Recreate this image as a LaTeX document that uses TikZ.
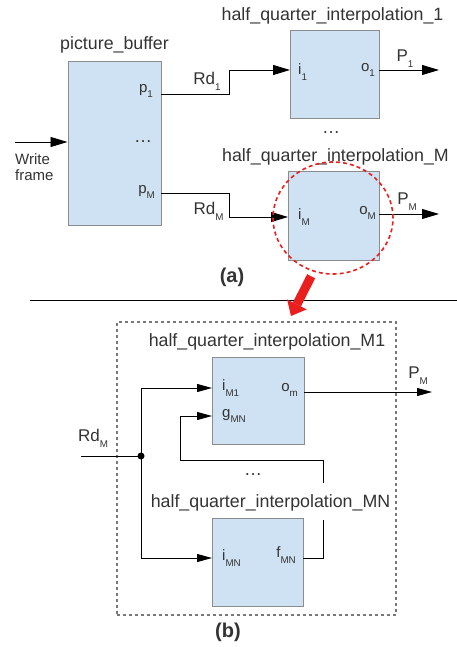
\documentclass[tikz,border=0pt]{standalone}
\usepackage{fontspec}
\setmainfont{Liberation Sans}
\usepackage{xcolor}
\usetikzlibrary{shapes.geometric, arrows.meta, positioning}

\definecolor{boxblue}{RGB}{207,226,243}
\definecolor{boxline}{RGB}{140,140,140}
\definecolor{txt}{RGB}{51,51,51}
\definecolor{zoomred}{RGB}{235,30,30}
\definecolor{framegray}{RGB}{120,120,120}
\newcommand{\lo}[1]{\raisebox{-0.35em}{\fontsize{9.8}{10}\selectfont #1}}

\begin{document}
\begin{tikzpicture}[
    x=1pt, y=-1pt,
    every node/.style={text=txt, inner sep=0pt},
    block/.style={rectangle, draw=boxline, fill=boxblue, line width=1pt},
    title/.style={font=\fontsize{17.8}{20}\selectfont},
    port/.style={font=\fontsize{15}{16}\selectfont},
    dots/.style={font=\fontsize{18}{18}\selectfont},
    sig/.style={font=\fontsize{17}{19}\selectfont},
    caption/.style={font=\fontsize{20}{22}\selectfont\bfseries},
    wire/.style={line width=0.9pt},
    arrowA/.style={wire, -{Triangle[length=17pt,width=10pt]}},
    arrowB/.style={wire, -{Triangle[length=15pt,width=8pt]}}
]
    \useasboundingbox (0,0) rectangle (457,647);

    % (a) Blocks
    \node (buf) [block, minimum width=93pt, minimum height=163pt] at (114.5,143.5) {};
    \node (hq1) [block, minimum width=89pt, minimum height=88pt] at (334.5,75) {};
    \node (hqM) [block, minimum width=91pt, minimum height=88pt] at (333.5,216) {};

    \node (bufname) [title, above=8pt of buf] {picture\_buffer};
    \node (hq1name) [title, above=6pt of hq1, xshift=-2pt] {half\_quarter\_interpolation\_1};
    \node (hqMname) [title, above=6pt of hqM, xshift=2pt] {half\_quarter\_interpolation\_M};

    % (a) Ports
    \coordinate (wf) at (15,142);
    \coordinate (p1) at (161,94);
    \coordinate (pM) at (161,193);
    \coordinate (i1) at (290,70);
    \coordinate (o1) at (379,70);
    \coordinate (iM) at (288,217);
    \coordinate (oM) at (379,214);
    \coordinate (P1out) at (439,70);
    \coordinate (PMout) at (439,214);

    \node (p1lab) [port, left=8pt of p1, yshift=3pt] {p\lo{1}};
    \node (pMlab) [port, left=6pt of pM, yshift=1pt] {p\lo{M}};
    \node (i1lab) [port, right=8pt of i1, yshift=-2pt] {i\lo{1}};
    \node (o1lab) [port, left=4pt of o1] {o\lo{1}};
    \node (iMlab) [port, right=10pt of iM] {i\lo{M}};
    \node (oMlab) [port, left=3pt of oM, yshift=1pt] {o\lo{M}};
    \node (bufdots) [dots] at (143,142) {\ldots};
    \node (hqdots) [dots] at (331,133) {\ldots};
    \node (wflab) [port, align=left, below right=11pt and 0pt of wf] {Write\\frame};

    % (a) Arrows
    \draw [arrowA] (wf) -- (buf.west |- wf);
    \draw [arrowA] (p1) -- ++(68,0) node[sig, anchor=south east, xshift=-8pt, yshift=3pt] {Rd\lo{1}} |- (i1);
    \draw [arrowA] (pM) -- ++(68,0) node[sig, anchor=north east, xshift=-5pt, yshift=-9pt] {Rd\lo{M}} |- (iM);
    \draw [arrowA] (o1) -- (P1out) node[sig, midway, above=2pt, xshift=-4pt] {P\lo{1}};
    \draw [arrowA] (oM) -- (PMout) node[sig, midway, above=3pt, xshift=-2pt] {P\lo{M}};

    \node (capA) [caption] at (232,277) {(a)};

    % Zoom marker
    \node (zoom) [ellipse, draw=zoomred, line width=1.6pt, dash pattern=on 4pt off 3pt,
        minimum width=120pt, minimum height=112pt] at (333,218) {};
    \coordinate (zoomtip) at (291,316);
    \draw [line width=1.5pt] (30,300.5) -- (457,300.5);
    \draw [zoomred, line width=9pt, shorten <=5pt,
        -{Triangle[length=13pt,width=22pt,line width=0pt]}] (zoom.-110) -- (zoomtip);

    % (b) Blocks
    \node (frameB) [rectangle, draw=framegray, line width=1.2pt, dash pattern=on 3pt off 3pt,
        minimum width=279pt, minimum height=293pt] at (256.5,468.5) {};
    \node (m1) [block, minimum width=92pt, minimum height=87pt] at (258,400.5) {};
    \node (mn) [block, minimum width=91pt, minimum height=88pt] at (257.5,562) {};
    \node (m1name) [title, above=6pt of m1, xshift=9pt] {half\_quarter\_interpolation\_M1};
    \node (mnname) [title, above=6pt of mn, xshift=13pt] {half\_quarter\_interpolation\_MN};

    % (b) Ports
    \coordinate (rdin) at (81,456);
    \coordinate (split) at (141,456);
    \coordinate (im1) at (212,388);
    \coordinate (gmn) at (212,416);
    \coordinate (om) at (304,392);
    \coordinate (imn) at (212,558);
    \coordinate (fmn) at (303,558);
    \coordinate (PMoutB) at (432,392);

    \node (im1lab) [port, right=10pt of im1] {i\lo{M1}};
    \node (gmnlab) [port, right=10pt of gmn] {g\lo{MN}};
    \node (omlab) [port, left=6pt of om, yshift=2pt] {o\lo{m}};
    \node (imnlab) [port, right=10pt of imn] {i\lo{MN}};
    \node (fmnlab) [port, left=7pt of fmn, yshift=3pt] {f\lo{MN}};
    \node (mdots) [dots] at (253,475) {\ldots};
    \node (rdlab) [sig, above right=8pt and -3pt of rdin] {Rd\lo{M}};

    % (b) Arrows
    \draw [wire] (rdin) -- (split);
    \fill (split) circle (3.5pt);
    \draw [arrowB] (split) |- (im1);
    \draw [arrowB] (split) |- (imn);
    \draw [arrowB] (fmn) -- ++(20,0) -- ++(0,-38) ++(0,-37) -- ++(0,-23) -| ([xshift=-32pt]gmn) -- (gmn);
    \draw [arrowB] (om) -- (PMoutB) node[sig, above=7pt, xshift=-14pt] {P\lo{M}};

    \node (capB) [caption] at (228,632) {(b)};
\end{tikzpicture}
\end{document}
